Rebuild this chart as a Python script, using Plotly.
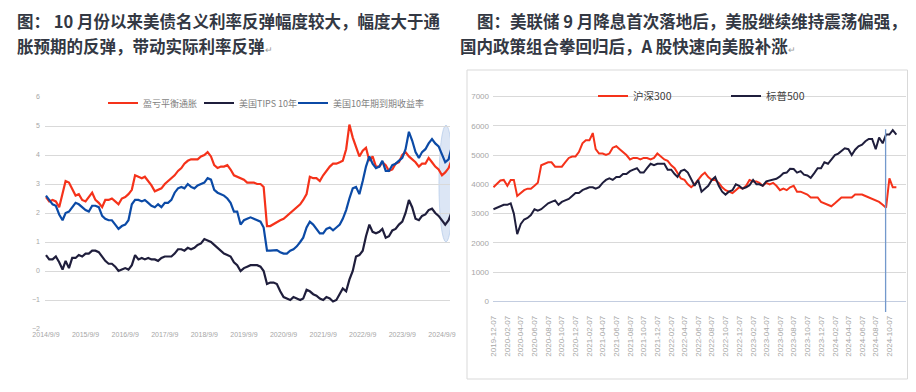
import pandas as pd
import plotly.graph_objects as go

# ---------------- Left chart data (monthly, from 2014-09-09) ----------------
breakeven = [
    2.55, 2.4, 2.45, 2.4, 2.2, 2.7, 3.1, 3.05, 2.85, 2.6,
    2.65, 2.45, 2.4, 2.55, 2.7, 2.45, 2.35, 2.2, 2.45, 2.45,
    2.5, 2.4, 2.3, 2.5, 2.55, 2.65, 2.8, 3.3, 3.25, 3.2,
    3.25, 3.1, 2.95, 2.75, 2.8, 2.85, 3.0, 3.1, 3.2, 3.3,
    3.45, 3.55, 3.7, 3.8, 3.85, 3.85, 3.85, 3.95, 4.0, 4.1,
    3.95, 3.65, 3.55, 3.6, 3.6, 3.65, 3.5, 3.3, 3.25, 3.2,
    3.15, 3.05, 3.05, 3.05, 3.0, 3.0, 2.9, 1.55, 1.55, 1.62,
    1.7, 1.75, 1.8, 1.9, 2.0, 2.1, 2.2, 2.3, 2.45, 2.65,
    3.25, 3.2, 3.2, 3.1, 3.3, 3.45, 3.6, 3.7, 3.7, 3.75,
    3.8, 4.2, 5.05, 4.6, 4.25, 3.95, 4.15, 4.25, 3.8, 3.95,
    3.6, 3.6, 3.75, 3.65, 3.45, 3.5, 3.7, 3.75, 4.0, 4.1,
    3.95, 3.85, 3.75, 3.6, 3.7, 3.7, 3.9, 3.75, 3.6, 3.5,
    3.3, 3.4, 3.55, 3.85,
]
tips10 = [
    0.55, 0.4, 0.4, 0.5, 0.3, 0.05, 0.35, 0.1, 0.45, 0.45,
    0.55, 0.5, 0.6, 0.6, 0.7, 0.7, 0.65, 0.5, 0.35, 0.25,
    0.25, 0.15, 0.0, 0.05, 0.1, 0.05, 0.2, 0.55, 0.4, 0.45,
    0.4, 0.45, 0.4, 0.4, 0.35, 0.45, 0.5, 0.5, 0.5, 0.6,
    0.75, 0.75, 0.7, 0.8, 0.75, 0.8, 0.9, 0.95, 1.1, 1.05,
    1.0, 0.9, 0.8, 0.7, 0.6, 0.55, 0.5, 0.3, 0.2, 0.0,
    0.1, 0.15, 0.2, 0.2, 0.2, 0.15, 0.0, -0.45, -0.4, -0.4,
    -0.45, -0.7, -0.9, -0.95, -1.0, -0.9, -0.95, -1.0, -0.95, -0.65,
    -0.7, -0.8, -0.85, -0.95, -1.0, -0.9, -0.95, -1.05, -1.0, -0.8,
    -0.6, -0.7, -0.3, 0.0, 0.5, 0.55, 0.7, 1.2, 1.6, 1.35,
    1.3, 1.35, 1.45, 1.15, 1.2, 1.4, 1.45, 1.6, 1.7, 2.0,
    2.45, 2.2, 1.8, 1.75, 1.9, 1.95, 2.1, 2.15, 2.0, 1.9,
    1.75, 1.6, 1.75, 2.05,
]
ust10 = [
    2.6, 2.45, 2.3, 2.25, 1.95, 1.75, 2.0, 2.05, 2.2, 2.35,
    2.3, 2.2, 2.1, 2.05, 2.25, 2.25, 2.2, 1.9, 1.8, 1.75,
    1.75, 1.6, 1.45, 1.55, 1.6, 1.75, 2.3, 2.45, 2.45, 2.4,
    2.45, 2.35, 2.25, 2.2, 2.3, 2.2, 2.35, 2.35, 2.45, 2.7,
    2.85, 2.9, 2.85, 3.0, 2.9, 2.85, 2.95, 3.0, 3.05, 3.2,
    3.15, 2.8, 2.7, 2.65, 2.6, 2.5, 2.35, 2.05, 2.05, 1.6,
    1.75, 1.8, 1.85, 1.8, 1.75, 1.7, 1.5, 0.7, 0.7, 0.7,
    0.72, 0.65, 0.6, 0.6, 0.7, 0.75, 0.85, 1.0, 1.15, 1.5,
    1.7, 1.6, 1.45, 1.3, 1.3, 1.45, 1.5, 1.4, 1.5, 1.6,
    1.8, 2.1, 2.5, 2.85, 2.9, 2.65, 3.1, 3.6, 3.95, 3.7,
    3.55, 3.6, 3.8, 3.45, 3.45, 3.65, 3.7, 3.8, 3.9, 4.2,
    4.8, 4.5, 4.1, 3.9, 4.1, 4.2, 4.4, 4.55, 4.4, 4.3,
    4.0, 3.75, 3.85, 4.3,
]
left_dates = pd.date_range(start="2014-09-09", periods=len(ust10), freq=pd.DateOffset(months=1))
left_tick_years = list(range(2014, 2025))
left_tickvals = [f"{y}-09-09" for y in left_tick_years]
left_ticktext = [f"{y}/9/9" for y in left_tick_years]
left_names = ["盈亏平衡通胀", "美国TIPS 10年", "美国10年期到期收益率"]

# ---------------- Right chart data (semi-monthly, from 2019-12-07) ----------------
csi300 = [
    3900, 4000, 4130, 4150, 3950, 4150, 4150, 3600, 3700, 3800,
    3850, 3850, 3950, 4050, 4650, 4700, 4750, 4750, 4600, 4600,
    4600, 4750, 4900, 4950, 4950, 5100, 5400, 5500, 5500, 5750,
    5200, 5050, 5050, 5000, 5050, 5250, 5300, 5200, 5100, 5000,
    4850, 4900, 4900, 4850, 4900, 4900, 4850, 4900, 5050, 4950,
    4850, 4800, 4650, 4550, 4400, 4200, 4150, 4000, 3900, 4000,
    4150, 4300, 4400, 4250, 4150, 4150, 4050, 3900, 3800, 3750,
    3700, 3800, 3900, 3850, 3950, 4150, 4100, 4100, 4050, 3950,
    4050, 4000, 4050, 3950, 3800, 3850, 3800, 3900, 3950, 3750,
    3750, 3700, 3650, 3550, 3550, 3550, 3400, 3350, 3300, 3250,
    3350, 3450, 3550, 3550, 3550, 3550, 3650, 3650, 3650, 3600,
    3550, 3500, 3450, 3400, 3300, 3200, 4200, 3900, 3900,
]
spx500 = [
    3150, 3200, 3250, 3300, 3300, 3350, 3000, 2300, 2650, 2800,
    2850, 2950, 3150, 3100, 3150, 3250, 3350, 3400, 3450, 3300,
    3400, 3450, 3500, 3600, 3700, 3700, 3800, 3850, 3900, 3900,
    3850, 3900, 4050, 4150, 4200, 4150, 4250, 4250, 4350, 4350,
    4450, 4500, 4550, 4400, 4400, 4550, 4700, 4650, 4700, 4700,
    4700, 4500, 4500, 4350, 4250, 4450, 4500, 4400, 4150, 3950,
    4150, 3750, 3850, 3950, 4150, 4250, 3950, 3750, 3650, 3750,
    3800, 4000, 3950, 3850, 3900, 3970, 4150, 4000, 4000, 3950,
    4100, 4130, 4140, 4190, 4270, 4380, 4400, 4530, 4520, 4400,
    4450, 4330, 4300, 4220, 4380, 4550, 4550, 4750, 4700, 4850,
    5000, 5050, 5150, 5230, 5200, 5000, 5180, 5300, 5350, 5470,
    5550, 5550, 5200, 5600, 5400, 5700, 5700, 5850, 5700,
]
right_dates = [pd.Timestamp("2019-12-07") + pd.DateOffset(months=i // 2, days=15 * (i % 2))
               for i in range(len(spx500))]
right_tickvals = [pd.Timestamp("2019-12-07") + pd.DateOffset(months=2 * i) for i in range(30)]
right_ticktext = [d.strftime("%Y-%m-%d") for d in right_tickvals]
right_names = ["沪深300", "标普500"]
fed_cut_date = "2024-09-20"

# ---------------- Figure ----------------
# The page body has an 8px default margin; lay out in page pixels and convert.
OFF = 8
W, H = 916 - 2 * OFF, 392 - 2 * OFF
def px(x): return (x - OFF) / W
def py(y): return 1 - (y - OFF) / H

RED = "#f5321a"
NAVY = "#1f1e3c"
BLUE = "#0b4aa6"
TICK_FONT = dict(family="Liberation Sans, Noto Sans CJK SC", size=7, color="#a6a6a6")
RTICK_FONT = dict(family="Liberation Sans, Noto Sans CJK SC", size=8, color="#a6a6a6")

# one legend box per entry so each sits where the reference shows it
left_legends = ["legend", "legend3", "legend4"]
right_legends = ["legend2", "legend5"]

fig = go.Figure()
for name, vals, col, lg in zip(left_names, [breakeven, tips10, ust10], [RED, NAVY, BLUE], left_legends):
    fig.add_trace(go.Scatter(x=left_dates, y=vals, name=name, mode="lines",
                             line=dict(color=col, width=2.2), xaxis="x", yaxis="y", legend=lg))
for name, vals, col, lg in zip(right_names, [csi300, spx500], [RED, NAVY], right_legends):
    fig.add_trace(go.Scatter(x=right_dates, y=vals, name=name, mode="lines",
                             line=dict(color=col, width=2), xaxis="x2", yaxis="y2", legend=lg))

TITLE_FONT = dict(family="Noto Sans CJK SC", size=16.5, color="#333843")
ret = '<span style="font-size:9px;color:#9a9a9a;font-weight:normal">↵</span>'
titles = [
    (16, 8, "<b>图： 10 月份以来美债名义利率反弹幅度较大，幅度大于通</b>"),
    (16, 33, "<b>胀预期的反弹，带动实际利率反弹</b>" + ret),
    (476, 8, "<b>图：美联储 9 月降息首次落地后，美股继续维持震荡偏强，</b>"),
    (459, 33, "<b>国内政策组合拳回归后，A 股快速向美股补涨</b>" + ret),
]
annotations = [dict(x=px(x), y=py(y), xref="paper", yref="paper", text=t, showarrow=False,
                    xanchor="left", yanchor="top", borderpad=0, font=TITLE_FONT)
               for x, y, t in titles]

shapes = [
    # right chart frame
    dict(type="rect", xref="paper", yref="paper", x0=px(467), x1=px(907.5), y0=py(379), y1=py(70),
         line=dict(color="#d9d9d9", width=1), fillcolor="rgba(0,0,0,0)", layer="below"),
    # highlight ellipse on left chart
    dict(type="circle", xref="x", yref="y", x0="2024-08-12", x1="2024-12-20", y0=1.0, y1=5.03,
         fillcolor="rgba(196,214,238,0.6)", line=dict(color="rgba(170,195,230,0.6)", width=1),
         layer="below"),
    # Fed cut marker on right chart
    dict(type="line", xref="x2", yref="y2", x0=fed_cut_date, x1=fed_cut_date, y0=-360, y1=5880,
         line=dict(color="#7399cc", width=1.3), layer="above"),
]

def legend_box(x, y, size, color):
    return dict(x=px(x), y=py(y), xanchor="left", yanchor="middle", orientation="h",
                bgcolor="rgba(0,0,0,0)", font=dict(family="Noto Sans CJK SC", size=size, color=color),
                itemwidth=30)

fig.update_layout(
    width=W, height=H, margin=dict(l=0, r=0, t=0, b=0, autoexpand=False),
    paper_bgcolor="white", plot_bgcolor="white",
    font=dict(family="Noto Sans CJK SC"),
    annotations=annotations, shapes=shapes,
    xaxis=dict(domain=[px(45), px(450)], range=["2014-08-31", "2024-11-22"], type="date",
               tickvals=left_tickvals, ticktext=left_ticktext, showgrid=False, zeroline=False,
               showline=False, ticks="", tickfont=TICK_FONT, tickangle=0, automargin=False),
    yaxis=dict(domain=[py(329), py(97)], range=[-2, 6], tickvals=list(range(-2, 7)),
               gridcolor="#d9d9d9", gridwidth=1, zeroline=False, showline=False, ticks="",
               tickfont=TICK_FONT, ticklabelstandoff=4, automargin=False),
    xaxis2=dict(domain=[px(493), px(906)], range=["2019-12-05", "2024-12-20"], type="date",
                tickvals=right_tickvals, ticktext=right_ticktext, tickangle=-90, showgrid=False,
                zeroline=False, showline=False, ticks="", tickfont=RTICK_FONT,
                anchor="y2", automargin=False),
    yaxis2=dict(domain=[py(313.2), py(93.5)], range=[-400, 7100],
                tickvals=list(range(0, 7001, 1000)), gridcolor="#d9d9d9", gridwidth=1,
                zeroline=True, zerolinecolor="#c3cde0", zerolinewidth=1, showline=False, ticks="",
                tickfont=RTICK_FONT, anchor="x2", ticklabelstandoff=3, automargin=False),
    legend=legend_box(103, 103, 9, "#7f7f7f"),
    legend3=legend_box(199, 103, 9, "#7f7f7f"),
    legend4=legend_box(293, 103, 9, "#7f7f7f"),
    legend2=legend_box(593, 96, 10.5, "#404040"),
    legend5=legend_box(726, 96, 10.5, "#404040"),
    showlegend=True,
)

fig.write_html("out.html")
